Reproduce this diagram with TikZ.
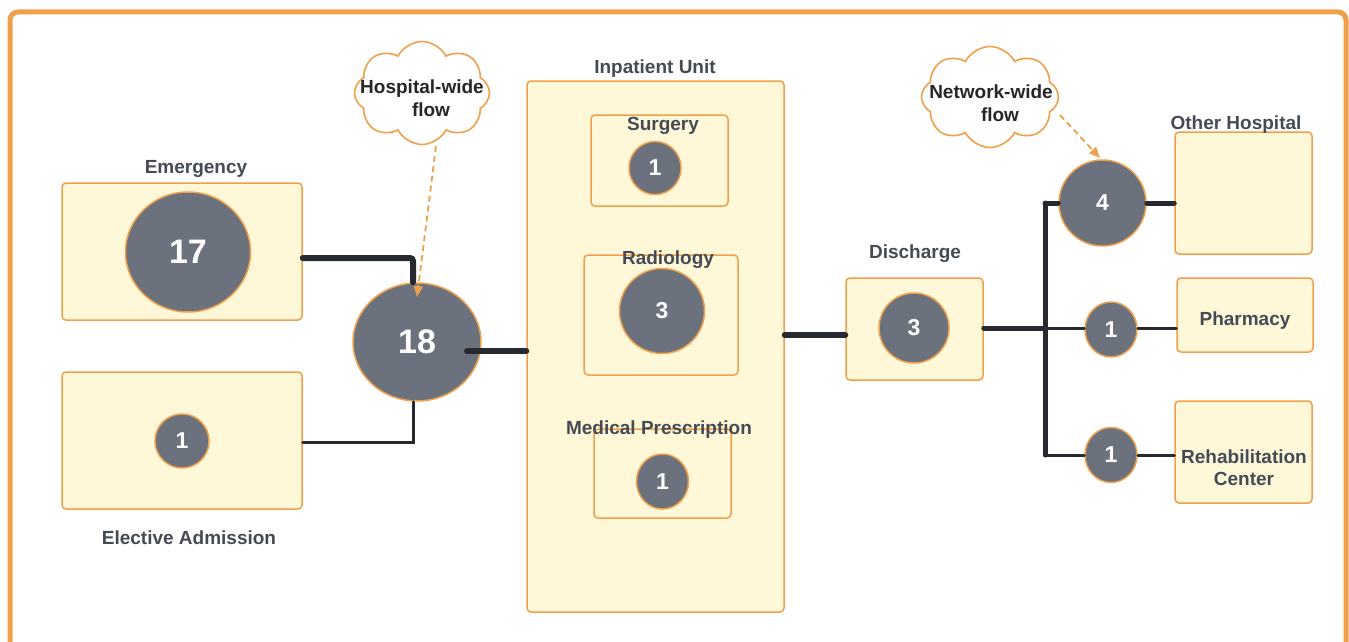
\documentclass[tikz,border=0pt]{standalone}
\usepackage{fontspec}
\setmainfont{Liberation Sans}
\usetikzlibrary{shapes.symbols,shapes.geometric,arrows.meta}
\definecolor{frameor}{HTML}{F0A04B}
\definecolor{boxfill}{HTML}{FFF8D8}
\definecolor{circfill}{HTML}{6B727D}
\definecolor{labelc}{HTML}{454B55}
\definecolor{linec}{HTML}{262A30}
\begin{document}
\begin{tikzpicture}[x=1pt,y=-1pt,
 box/.style={draw=frameor, fill=boxfill, line width=1.5pt, rounded corners=4pt, inner sep=0pt},
 num/.style={ellipse, draw=frameor, fill=circfill, line width=1.5pt, text=white, font=\bfseries\fontsize{23}{25}\selectfont, inner sep=0pt},
 bignum/.style={num, font=\bfseries\fontsize{34}{36}\selectfont},
 lbl/.style={text=labelc, font=\bfseries\fontsize{19}{22}\selectfont, inner sep=0pt, align=center, yshift=-3.5pt},
 cloudtxt/.style={text=black!85, font=\bfseries\fontsize{19}{23}\selectfont, inner sep=0pt, align=center},
 cloudshape/.style={cloud, cloud puffs=8, cloud puff arc=125, draw=frameor, fill=white, line width=1.6pt, inner sep=0pt},
 heavy/.style={draw=linec, line width=6pt, rounded corners=3pt, line cap=round},
 light/.style={draw=linec, line width=3pt, line cap=round},
 dasharrow/.style={draw=frameor, line width=1.8pt, dash pattern=on 6pt off 4pt, -{Triangle[length=11pt,width=9pt]}}
]
\useasboundingbox (0,0) rectangle (1349,642);
\clip (0,0) rectangle (1349,642);
\draw[frameor, line width=5pt, rounded corners=8pt, fill=white] (10,12) rectangle (1346,700);

% boxes
\node[box, minimum width=240pt, minimum height=137pt] (em) at (182,251.5) {};
\node[box, minimum width=240pt, minimum height=137pt] (el) at (182,440.5) {};
\node[box, minimum width=257pt, minimum height=531pt] (ip) at (655.5,346.5) {};
\node[box, minimum width=137pt, minimum height=91pt] (sg) at (659.5,160.5) {};
\node[box, minimum width=154pt, minimum height=120pt] (rd) at (661,315) {};
\node[box, minimum width=137pt, minimum height=89pt] (mp) at (662.5,473.5) {};
\node[box, minimum width=137pt, minimum height=102pt] (dc) at (914.5,329) {};
\node[box, minimum width=137pt, minimum height=122pt] (oh) at (1243.5,193) {};
\node[box, minimum width=136pt, minimum height=74pt] (ph) at (1245,315) {};
\node[box, minimum width=137pt, minimum height=102pt] (rh) at (1243.5,452) {};

% labels
\node[lbl] (lem) at (196,165) {Emergency};
\node[lbl] (lel) at (189,534) {Elective Admission};
\node[lbl] (lip) at (655,65) {Inpatient Unit};
\node[lbl] (lsg) at (663,122) {Surgery};
\node[lbl] (lrd) at (668,256) {Radiology};
\node[lbl] (lmp) at (659,426) {Medical Prescription};
\node[lbl] (ldc) at (915,250) {Discharge};
\node[lbl] (loh) at (1236,121) {Other Hospital};
\node[lbl] (lph) at (1245,317) {Pharmacy};
\node[lbl] (lrh) at (1244,464) {Rehabilitation\\Center};

% circles
\node[bignum, minimum width=125pt, minimum height=120pt] (c17) at (188,252) {17};
\node[num, minimum width=54pt, minimum height=54pt] (c1e) at (182,441) {1};
\node[bignum, minimum width=128pt, minimum height=118pt] (c18) at (417,342) {18};
\node[num, minimum width=52pt, minimum height=53pt] (csg) at (655,168) {1};
\node[num, minimum width=85pt, minimum height=85pt] (crd) at (662,311) {3};
\node[num, minimum width=52pt, minimum height=55pt] (cmp) at (662.5,481.5) {1};
\node[num, minimum width=70pt, minimum height=70pt] (cdc) at (914,328) {3};
\node[num, minimum width=87pt, minimum height=86pt] (c4) at (1102.5,203) {4};
\node[num, minimum width=52pt, minimum height=55pt] (cph) at (1111,329.5) {1};
\node[num, minimum width=52pt, minimum height=55pt] (crh) at (1111,455) {1};

% clouds
\node[cloudshape, minimum width=135pt, minimum height=103pt] (hc) at (422,93) {};
\node[cloudtxt] (hct) at (422,98) {Hospital-wide\\\hspace*{18pt}flow};
\node[cloudshape, minimum width=137pt, minimum height=101pt] (nc) at (990,97) {};
\node[cloudtxt] (nct) at (991,103) {Network-wide\\\hspace*{18pt}flow};

% connectors
\path[heavy] ([yshift=-6.5pt]em.east) -| ([xshift=-4pt]c18.north);
\path[light] ([yshift=-1.5pt]el.east) -| ([xshift=-4pt]c18.south);
\coordinate (a18) at (467,351);
\path[heavy, rounded corners=0pt] (a18) -- (a18 -| ip.west);
\coordinate (b1) at (784,335);
\path[heavy, rounded corners=0pt] (ip.east |- b1) -- (dc.west |- b1);
\coordinate (jn) at (1045,328);
\coordinate (jt) at (1045,203);
\coordinate (jb) at (1045,455);
\path[heavy, line width=5pt, rounded corners=0pt] (dc.east |- jn) -- (jn);
\path[heavy, line width=5pt, rounded corners=0pt] (jt) -- (jb);
\path[heavy, line width=5pt, rounded corners=0pt] (jt) -- (c4.west);
\path[heavy, line width=5pt, rounded corners=0pt] (c4.east) -- (oh.west |- c4.east);
\path[light] (jn) -- (cph.west |- jn);
\path[light] (cph.east |- jn) -- (ph.west |- jn);
\path[light] (jb) -- (crh.west);
\path[light] (crh.east) -- (rh.west |- crh.east);

% dashed arrows
\coordinate (hcs) at (436,146);
\coordinate (hce) at (417,297);
\path[dasharrow] (hcs) -- (hce);
\coordinate (ncs) at (1060,115);
\coordinate (nce) at (1100,158);
\path[dasharrow] (ncs) -- (nce);
\end{tikzpicture}
\end{document}
